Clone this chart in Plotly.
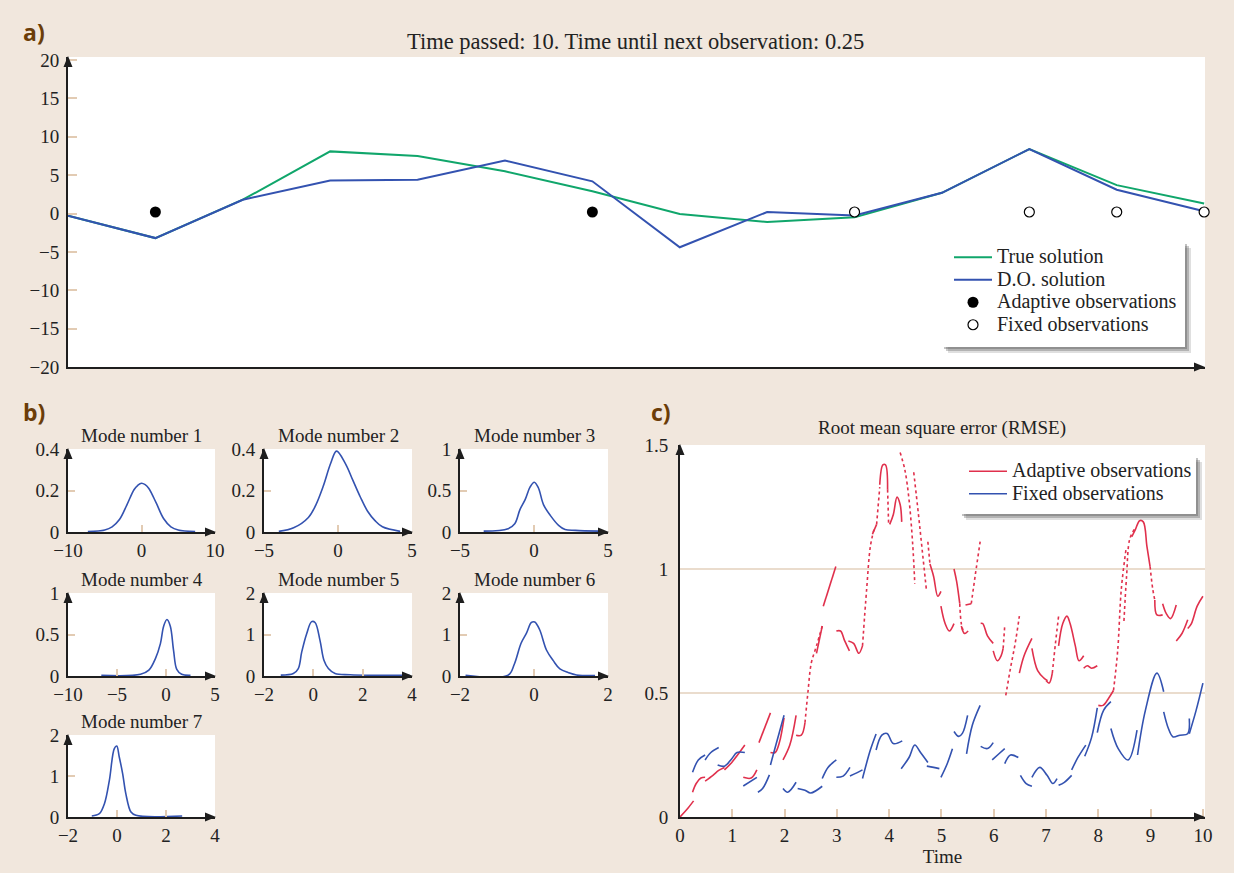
import plotly.graph_objects as go

W, H = 1234, 873


def fx(p):
    return p / W


def fy(p):
    return 1 - p / H


BG = "#f1e7dd"
TICK = "#e2cbb3"
GRID = "#eadccd"
AXIS = "#1e1e1e"
GREEN = "#10a66b"
BLUE = "#3352b0"
RED = "#e0304c"
SERIF = "Liberation Serif"
TXT = "#222222"

# ---------------- panel a data ----------------
a_x = [0, 1, 2, 3, 4, 5, 6, 7, 8, 9, 10, 11, 12, 13]
true_solution = [-0.3, -3.2, 1.8, 8.1, 7.5, 5.5, 2.9, -0.05, -1.1, -0.5, 2.7, 8.4, 3.7, 1.3]
do_solution = [-0.3, -3.2, 1.8, 4.3, 4.4, 6.9, 4.2, -4.4, 0.2, -0.25, 2.7, 8.4, 3.1, 0.3]
adaptive_obs_x = [1, 6]
adaptive_obs_y = [0.2, 0.2]
fixed_obs_x = [9, 11, 12, 13]
fixed_obs_y = [0.2, 0.2, 0.2, 0.2]
a_yticks = [-20, -15, -10, -5, 0, 5, 10, 15, 20]

# ---------------- panel b data ----------------
mode1_x = [-7.3, -5, -4, -3, -2, -1, -0.5, 0, 0.5, 1, 2, 3, 4, 5, 7.3]
mode1_y = [0.002, 0.01, 0.025, 0.06, 0.13, 0.205, 0.225, 0.235, 0.228, 0.21, 0.14, 0.065, 0.025, 0.01, 0.002]
mode2_x = [-4.0, -3, -2, -1.5, -1, -0.5, -0.1, 0.5, 1, 1.5, 2, 2.5, 3, 4.2]
mode2_y = [0.003, 0.02, 0.07, 0.13, 0.22, 0.33, 0.39, 0.33, 0.25, 0.17, 0.1, 0.055, 0.025, 0.003]
mode3_x = [-3.4, -1.75, -1.3, -0.95, -0.6, -0.27, 0.02, 0.3, 0.64, 1.1, 1.66, 2.1, 2.8, 4.4]
mode3_y = [0.01, 0.04, 0.1, 0.27, 0.39, 0.54, 0.6, 0.53, 0.33, 0.2, 0.08, 0.03, 0.02, 0.01]
mode4_x = [-6.6, -2.6, -1.75, -1.08, -0.57, -0.24, 0.1, 0.44, 0.77, 1.1, 1.6, 2.5]
mode4_y = [0.008, 0.02, 0.07, 0.21, 0.39, 0.6, 0.68, 0.6, 0.31, 0.08, 0.02, 0.008]
mode5_x = [-1.32, -0.81, -0.61, -0.47, -0.27, -0.07, 0.07, 0.27, 0.43, 0.61, 0.88, 1.49, 3.9]
mode5_y = [0.02, 0.06, 0.18, 0.58, 1.02, 1.31, 1.29, 0.86, 0.38, 0.18, 0.06, 0.03, 0.015]
mode6_x = [-1.85, -0.7, -0.53, -0.35, -0.2, -0.07, 0.02, 0.15, 0.34, 0.52, 0.7, 0.93, 1.15, 1.65]
mode6_y = [0.015, 0.02, 0.29, 0.79, 1.04, 1.29, 1.3, 1.12, 0.62, 0.37, 0.17, 0.08, 0.025, 0.01]
mode7_x = [-1.03, -0.72, -0.51, -0.31, -0.11, -0.01, 0.09, 0.23, 0.36, 0.57, 0.77, 2.66]
mode7_y = [0.025, 0.08, 0.33, 0.9, 1.67, 1.73, 1.47, 1.06, 0.57, 0.12, 0.04, 0.025]

mode_titles = ["Mode number 1", "Mode number 2", "Mode number 3", "Mode number 4",
               "Mode number 5", "Mode number 6", "Mode number 7"]
mode_xranges = [[-10, 10], [-5, 5], [-5, 5], [-10, 5], [-2, 4], [-2, 2], [-2, 4]]
mode_yranges = [[0, 0.4], [0, 0.4], [0, 1], [0, 1], [0, 2], [0, 2], [0, 2]]
mode_xticks = [[-10, 0, 10], [-5, 0, 5], [-5, 0, 5], [-10, -5, 0, 5], [-2, 0, 2, 4], [-2, 0, 2], [-2, 0, 2, 4]]
mode_yticks = [[0, 0.2, 0.4], [0, 0.2, 0.4], [0, 0.5, 1], [0, 0.5, 1], [0, 1, 2], [0, 1, 2], [0, 1, 2]]

# ---------------- panel c data (fragments: [time, rmse]) ----------------
adaptive_solid = [
    [[0, 0], [0.13, 0.03], [0.26, 0.065]],
    [[0.24, 0.10], [0.31, 0.135], [0.40, 0.157], [0.48, 0.16]],
    [[0.48, 0.145], [0.63, 0.168], [0.74, 0.188], [0.85, 0.2]],
    [[0.85, 0.19], [0.99, 0.22], [1.24, 0.29]],
    [[1.21, 0.16], [1.36, 0.157], [1.47, 0.19]],
    [[1.51, 0.30], [1.73, 0.42]],
    [[1.73, 0.26], [1.82, 0.26], [1.90, 0.30], [1.99, 0.40]],
    [[1.97, 0.23], [2.10, 0.29], [2.22, 0.41]],
    [[2.22, 0.33], [2.32, 0.33], [2.39, 0.38]],
    [[2.61, 0.66], [2.72, 0.77]],
    [[2.74, 0.85], [2.98, 1.01]],
    [[2.99, 0.75], [3.07, 0.75], [3.15, 0.71], [3.24, 0.67]],
    [[3.22, 0.71], [3.32, 0.70], [3.42, 0.66], [3.49, 0.69]],
    [[3.68, 1.14], [3.76, 1.18]],
    [[3.82, 1.34], [3.88, 1.42], [3.93, 1.42], [3.97, 1.32]],
    [[4.01, 1.18], [4.08, 1.22], [4.15, 1.29], [4.21, 1.26], [4.24, 1.19]],
    [[4.78, 1.02], [4.85, 0.97], [4.93, 0.89], [4.99, 0.91]],
    [[4.99, 0.85], [5.07, 0.78], [5.15, 0.75], [5.24, 0.78]],
    [[5.24, 1.0], [5.29, 0.95], [5.35, 0.86]],
    [[5.38, 0.77], [5.44, 0.74], [5.51, 0.75]],
    [[5.46, 0.855], [5.57, 0.86]],
    [[5.75, 0.78], [5.79, 0.78], [5.88, 0.73], [5.99, 0.70]],
    [[5.99, 0.67], [6.07, 0.63], [6.14, 0.65], [6.18, 0.68]],
    [[6.49, 0.58], [6.58, 0.65], [6.73, 0.72]],
    [[6.73, 0.68], [6.84, 0.59], [6.96, 0.56], [7.03, 0.55]],
    [[7.0, 0.55], [7.06, 0.54], [7.12, 0.58]],
    [[7.24, 0.69], [7.32, 0.78], [7.40, 0.81], [7.46, 0.78], [7.56, 0.69], [7.63, 0.63], [7.72, 0.65]],
    [[7.72, 0.60], [7.79, 0.61], [7.87, 0.60], [7.98, 0.61]],
    [[8.0, 0.45], [8.09, 0.45], [8.20, 0.48], [8.29, 0.51]],
    [[8.64, 1.13], [8.71, 1.16], [8.79, 1.195], [8.86, 1.19], [8.93, 1.09], [8.99, 1.01]],
    [[9.08, 0.875], [9.12, 0.815], [9.23, 0.815]],
    [[9.23, 0.86], [9.30, 0.82], [9.38, 0.80], [9.49, 0.855]],
    [[9.49, 0.71], [9.60, 0.74], [9.71, 0.795]],
    [[9.71, 0.76], [9.78, 0.78], [9.89, 0.85], [10.0, 0.89]],
]
adaptive_dotted = [
    [[2.39, 0.38], [2.45, 0.51], [2.51, 0.62], [2.61, 0.69], [2.72, 0.77]],
    [[3.49, 0.69], [3.57, 0.92], [3.64, 1.09], [3.71, 1.16]],
    [[3.76, 1.18], [3.82, 1.33]],
    [[3.97, 1.32], [3.99, 1.18]],
    [[4.21, 1.47], [4.30, 1.40], [4.38, 1.28], [4.45, 1.10], [4.49, 0.94]],
    [[4.47, 1.39], [4.56, 1.22], [4.63, 1.08], [4.71, 0.92]],
    [[4.74, 1.11], [4.78, 1.02]],
    [[5.35, 0.86], [5.38, 0.78], [5.43, 0.74]],
    [[5.57, 0.86], [5.65, 0.98], [5.74, 1.11]],
    [[6.18, 0.68], [6.21, 0.77]],
    [[6.23, 0.49], [6.32, 0.60], [6.41, 0.70], [6.49, 0.81]],
    [[7.12, 0.58], [7.18, 0.70], [7.24, 0.81]],
    [[8.29, 0.51], [8.37, 0.67], [8.44, 0.92], [8.53, 1.08]],
    [[8.49, 0.79], [8.54, 0.97], [8.60, 1.12], [8.69, 1.16]],
    [[8.99, 1.01], [9.04, 0.92], [9.08, 0.875]],
]
fixed_solid = [
    [[0.24, 0.18], [0.35, 0.23], [0.48, 0.25]],
    [[0.48, 0.23], [0.59, 0.26], [0.74, 0.28]],
    [[0.72, 0.21], [0.85, 0.205], [0.99, 0.235], [1.09, 0.26], [1.24, 0.26]],
    [[1.21, 0.125], [1.47, 0.16]],
    [[1.49, 0.10], [1.58, 0.115], [1.71, 0.17]],
    [[1.73, 0.21], [1.82, 0.28], [1.99, 0.41]],
    [[1.97, 0.115], [2.06, 0.10], [2.22, 0.14]],
    [[2.25, 0.115], [2.39, 0.108], [2.50, 0.097], [2.72, 0.124]],
    [[2.72, 0.155], [2.83, 0.20], [2.99, 0.23]],
    [[2.99, 0.16], [3.12, 0.165], [3.25, 0.20]],
    [[3.25, 0.165], [3.38, 0.178], [3.49, 0.19]],
    [[3.49, 0.155], [3.64, 0.27], [3.75, 0.335]],
    [[3.75, 0.27], [3.86, 0.33], [3.96, 0.337], [4.08, 0.296], [4.25, 0.307]],
    [[4.23, 0.195], [4.38, 0.24], [4.49, 0.29], [4.60, 0.26], [4.74, 0.22]],
    [[4.72, 0.205], [4.85, 0.20], [4.96, 0.195]],
    [[4.99, 0.16], [5.11, 0.215], [5.21, 0.275]],
    [[5.24, 0.345], [5.33, 0.325], [5.40, 0.337], [5.50, 0.41]],
    [[5.48, 0.255], [5.59, 0.37], [5.74, 0.45]],
    [[5.75, 0.285], [5.88, 0.276], [5.99, 0.30]],
    [[5.97, 0.23], [6.10, 0.255], [6.21, 0.276]],
    [[6.21, 0.215], [6.32, 0.25], [6.47, 0.24]],
    [[6.51, 0.168], [6.62, 0.135], [6.73, 0.124]],
    [[6.73, 0.16], [6.88, 0.20], [7.02, 0.168], [7.13, 0.135], [7.21, 0.155]],
    [[7.24, 0.128], [7.35, 0.14], [7.49, 0.168]],
    [[7.49, 0.19], [7.61, 0.24], [7.76, 0.29]],
    [[7.74, 0.245], [7.87, 0.32], [7.98, 0.44]],
    [[7.98, 0.34], [8.10, 0.43], [8.24, 0.465]],
    [[8.24, 0.357], [8.38, 0.276], [8.57, 0.23], [8.74, 0.35]],
    [[8.75, 0.25], [8.90, 0.43], [9.12, 0.58], [9.25, 0.505]],
    [[9.25, 0.424], [9.34, 0.357], [9.43, 0.323], [9.56, 0.33], [9.71, 0.336], [9.74, 0.397]],
    [[9.74, 0.336], [9.87, 0.43], [10.0, 0.54]],
]
c_xticks = [0, 1, 2, 3, 4, 5, 6, 7, 8, 9, 10]
c_yticks = [0, 0.5, 1, 1.5]
c_yticktext = ["0", "0.5", "1", "1.5"]


def join(segments):
    xs, ys = [], []
    for seg in segments:
        for t, v in seg:
            xs.append(t)
            ys.append(v)
        xs.append(None)
        ys.append(None)
    return xs, ys


def big(s):
    return f'<span style="font-size:20px">{s}</span>'


fig = go.Figure()

# ---- panel a traces
fig.add_trace(go.Scatter(x=a_x, y=true_solution, mode="lines", name=big("True solution"),
                         line=dict(color=GREEN, width=2), xaxis="x", yaxis="y", legend="legend"))
fig.add_trace(go.Scatter(x=a_x, y=do_solution, mode="lines", name=big("D.O. solution"),
                         line=dict(color=BLUE, width=2), xaxis="x", yaxis="y", legend="legend"))
fig.add_trace(go.Scatter(x=adaptive_obs_x, y=adaptive_obs_y, mode="markers", name=big("Adaptive observations"),
                         marker=dict(color="black", size=11), xaxis="x", yaxis="y", legend="legend"))
fig.add_trace(go.Scatter(x=fixed_obs_x, y=fixed_obs_y, mode="markers", name=big("Fixed observations"),
                         marker=dict(color="white", size=10, line=dict(color="black", width=1.2)),
                         xaxis="x", yaxis="y", legend="legend", cliponaxis=False))

# ---- panel b traces
mode_x = [mode1_x, mode2_x, mode3_x, mode4_x, mode5_x, mode6_x, mode7_x]
mode_y = [mode1_y, mode2_y, mode3_y, mode4_y, mode5_y, mode6_y, mode7_y]
for i in range(7):
    n = i + 2
    fig.add_trace(go.Scatter(x=mode_x[i], y=mode_y[i], mode="lines", line=dict(color=BLUE, width=1.6, shape="spline"),
                             showlegend=False, xaxis=f"x{n}", yaxis=f"y{n}"))

# ---- panel c traces
rx, ry = join(adaptive_solid)
fig.add_trace(go.Scatter(x=rx, y=ry, mode="lines", name=big("Adaptive observations"),
                         line=dict(color=RED, width=1.6, shape="spline"), xaxis="x9", yaxis="y9",
                         legend="legend2", connectgaps=False))
dx, dy = join(adaptive_dotted)
fig.add_trace(go.Scatter(x=dx, y=dy, mode="lines", showlegend=False,
                         line=dict(color=RED, width=1.6, dash="dot", shape="spline"), xaxis="x9", yaxis="y9"))
bx, by = join(fixed_solid)
fig.add_trace(go.Scatter(x=bx, y=by, mode="lines", name=big("Fixed observations"),
                         line=dict(color=BLUE, width=1.6, shape="spline"), xaxis="x9", yaxis="y9",
                         legend="legend2"))

layout = dict(
    width=W, height=H, margin=dict(l=0, r=0, t=0, b=0, pad=0, autoexpand=False),
    paper_bgcolor=BG, plot_bgcolor="white",
    font=dict(family=SERIF, size=16, color=TXT),
    showlegend=True,
)

TF = dict(size=19, family=SERIF, color=TXT)

# panel a axes
layout["xaxis"] = dict(domain=[fx(68), fx(1205)], range=[0, 13.01], showline=True, linecolor=AXIS, linewidth=2,
                       showticklabels=False, ticks="", showgrid=False, zeroline=False, anchor="y",
                       automargin=False)
layout["yaxis"] = dict(domain=[fy(367), fy(57)], range=[-20, 20.4], tickvals=a_yticks, showline=True,
                       linecolor=AXIS, linewidth=2, ticks="inside", ticklen=9, tickcolor=TICK, tickwidth=2,
                       showgrid=False, zeroline=False, anchor="x", tickfont=TF,
                       ticklabelstandoff=3, automargin=False)

cols = [(68, 215), (264, 412), (460, 608)]
rows = [(449, 532), (593, 676), (735, 817)]
pos = [(0, 0), (0, 1), (0, 2), (1, 0), (1, 1), (1, 2), (2, 0)]
annotations = []
shapes = []


def tri_up(xp, yp, w=4.5, h=11):
    return dict(type="path", xref="paper", yref="paper", layer="above",
                path=f"M {fx(xp)},{fy(yp)} L {fx(xp - w)},{fy(yp + h)} L {fx(xp + w)},{fy(yp + h)} Z",
                fillcolor=AXIS, line=dict(width=0))


def tri_right(xp, yp, w=4.5, h=11):
    return dict(type="path", xref="paper", yref="paper", layer="above",
                path=f"M {fx(xp)},{fy(yp)} L {fx(xp - h)},{fy(yp - w)} L {fx(xp - h)},{fy(yp + w)} Z",
                fillcolor=AXIS, line=dict(width=0))


for i in range(7):
    n = i + 2
    r, c = pos[i]
    x0, x1 = cols[c]
    y0, y1 = rows[r]
    layout[f"xaxis{n}"] = dict(domain=[fx(x0), fx(x1)], range=mode_xranges[i], tickvals=mode_xticks[i],
                               showline=True, linecolor=AXIS, linewidth=2, ticks="inside", ticklen=7,
                               tickcolor=TICK, tickwidth=2, showgrid=False, zeroline=False, anchor=f"y{n}",
                               tickfont=TF, automargin=False, ticklabelstandoff=0)
    layout[f"yaxis{n}"] = dict(domain=[fy(y1), fy(y0)], range=mode_yranges[i], tickvals=mode_yticks[i],
                               showline=True, linecolor=AXIS, linewidth=2, ticks="inside", ticklen=7,
                               tickcolor=TICK, tickwidth=2, showgrid=False, zeroline=False, anchor=f"x{n}",
                               tickfont=TF, ticklabelstandoff=3, automargin=False)
    annotations.append(dict(text=mode_titles[i], xref="paper", yref="paper", x=fx((x0 + x1) / 2),
                            y=fy(y0 - 14), showarrow=False, font=TF,
                            xanchor="center", yanchor="middle"))
    shapes.append(tri_up(x0, y0 - 1))
    shapes.append(tri_right(x1 + 1, y1))

# panel c axes
layout["xaxis9"] = dict(domain=[fx(680), fx(1205)], range=[0, 10.04], tickvals=c_xticks, showline=True,
                        linecolor=AXIS, linewidth=2, ticks="inside", ticklen=8, tickcolor=TICK, tickwidth=2,
                        showgrid=False, zeroline=False, anchor="y9", tickfont=TF,
                        title=dict(text="Time", font=TF, standoff=0), ticklabelstandoff=0,
                        automargin=False)
layout["yaxis9"] = dict(domain=[fy(817), fy(445)], range=[0, 1.5], tickvals=c_yticks, ticktext=c_yticktext,
                        showline=True, linecolor=AXIS, linewidth=2, ticks="", showgrid=True, gridcolor=GRID,
                        gridwidth=2, zeroline=False, anchor="x9", tickfont=TF,
                        ticklabelstandoff=6, automargin=False)

# arrows
shapes.append(tri_up(68, 56))
shapes.append(tri_right(1205, 367))
shapes.append(tri_up(680, 444))
shapes.append(tri_right(1205, 817))

# legend boxes with soft drop shadows (legends themselves are transparent and drawn on top)
for (lx0, ly0, lx1, ly1) in [(942, 242, 1185, 347), (960, 456, 1196, 514)]:
    shapes += [
        dict(type="rect", xref="paper", yref="paper", layer="above",
             x0=fx(lx0 + 6), x1=fx(lx1 + 6), y0=fy(ly1 + 6), y1=fy(ly0 + 6),
             fillcolor="rgba(80,80,80,0.18)", line=dict(width=0)),
        dict(type="rect", xref="paper", yref="paper", layer="above",
             x0=fx(lx0 + 4), x1=fx(lx1 + 4), y0=fy(ly1 + 4), y1=fy(ly0 + 4),
             fillcolor="rgba(80,80,80,0.3)", line=dict(width=0)),
        dict(type="rect", xref="paper", yref="paper", layer="above",
             x0=fx(lx0 + 2), x1=fx(lx1 + 2), y0=fy(ly1 + 2), y1=fy(ly0 + 2),
             fillcolor="rgba(80,80,80,0.35)", line=dict(width=0)),
        dict(type="rect", xref="paper", yref="paper", layer="above",
             x0=fx(lx0), x1=fx(lx1), y0=fy(ly1), y1=fy(ly0),
             fillcolor="white", line=dict(width=0)),
    ]

# titles and panel labels
annotations += [
    dict(text="Time passed: 10. Time until next observation: 0.25", xref="paper", yref="paper",
         x=fx(636), y=fy(41), showarrow=False, font=dict(size=22.5, family=SERIF, color=TXT),
         xanchor="center", yanchor="middle"),
    dict(text="Root mean square error (RMSE)", xref="paper", yref="paper",
         x=fx(942), y=fy(428), showarrow=False, font=TF,
         xanchor="center", yanchor="middle"),
]
for lab, xp, yp in [("a)", 21, 32), ("b)", 21, 412), ("c)", 649, 412)]:
    annotations.append(dict(text=f"<b>{lab}</b>", xref="paper", yref="paper", x=fx(xp), y=fy(yp),
                            showarrow=False, xanchor="left", yanchor="middle",
                            font=dict(size=23, family="Open Sans", color="#6b3d08")))

layout["annotations"] = annotations
layout["shapes"] = shapes
layout["legend"] = dict(x=fx(949), y=fy(241), xanchor="left", yanchor="top", bgcolor="rgba(0,0,0,0)",
                        borderwidth=0, font=dict(size=15, family=SERIF, color=TXT), itemwidth=38,
                        tracegroupgap=0)
layout["legend2"] = dict(x=fx(964), y=fy(455), xanchor="left", yanchor="top", bgcolor="rgba(0,0,0,0)",
                         borderwidth=0, font=dict(size=15, family=SERIF, color=TXT), itemwidth=38,
                         tracegroupgap=0)

fig.update_layout(**layout)
fig.write_html("out.html")
